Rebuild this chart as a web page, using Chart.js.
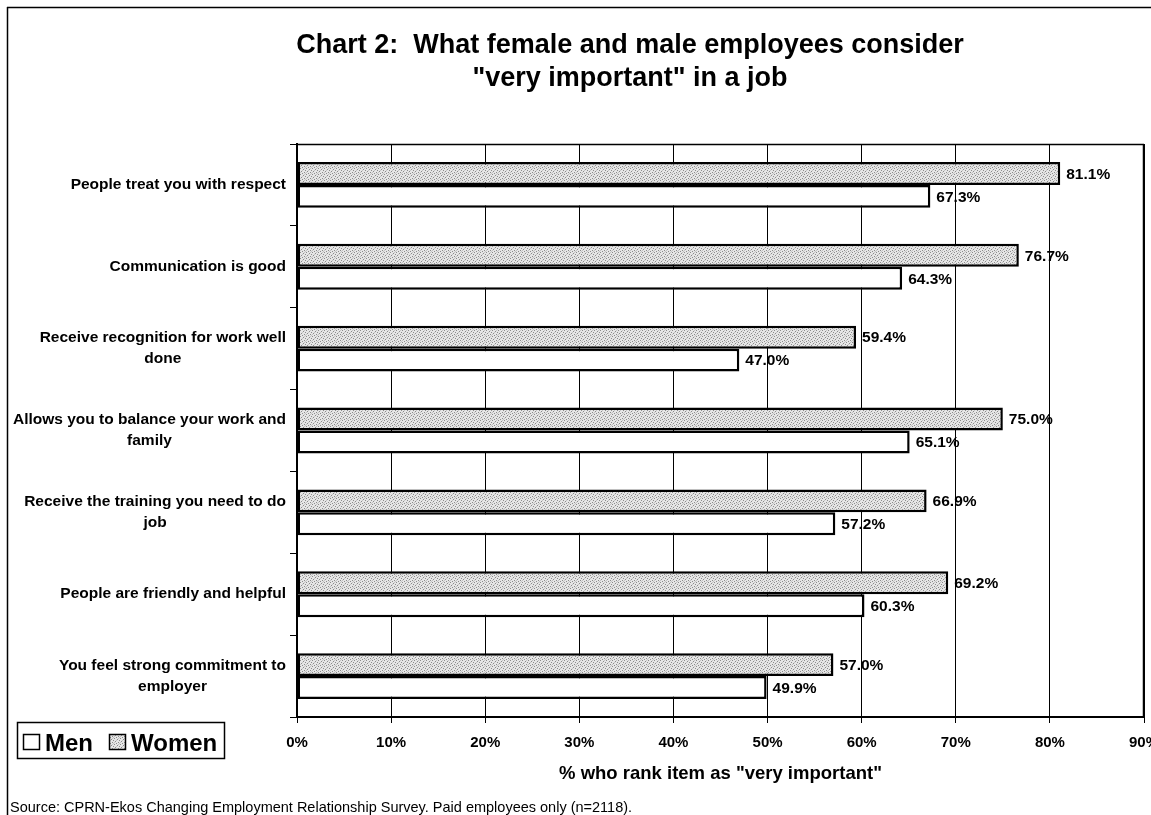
<!DOCTYPE html>
<html>
<head>
<meta charset="utf-8">
<script src="https://cdn.jsdelivr.net/npm/chart.js@4.4.1/dist/chart.umd.min.js"></script>
<style>
  html, body { margin: 0; padding: 0; background: #ffffff; }
  #wrap { position: relative; width: 1151px; height: 815px; }
  canvas { display: block; }
</style>
</head>
<body>
<div id="wrap"><canvas id="c" width="1151" height="815"></canvas></div>
<script>
// ---- data ----
const categories = [
  ["People treat you with respect"],
  ["Communication is good"],
  ["Receive recognition for work well", "done"],
  ["Allows you to balance your work and", "family"],
  ["Receive the training you need to do", "job"],
  ["People are friendly and helpful"],
  ["You feel strong commitment to", "employer"]
];
const womenValues = [81.1, 76.7, 59.4, 75.0, 66.9, 69.2, 57.0];
const menValues   = [67.3, 64.3, 47.0, 65.1, 57.2, 60.3, 49.9];
const seriesNames = ["Women", "Men"];
const legendOrder = ["Men", "Women"];
const xTickValues = [0, 10, 20, 30, 40, 50, 60, 70, 80, 90];
const titleLines = ["Chart 2:  What female and male employees consider", "\"very important\" in a job"];
const xAxisTitle = "% who rank item as \"very important\"";
const sourceText = "Source: CPRN-Ekos Changing Employment Relationship Survey. Paid employees only (n=2118).";

const FONT = '"Liberation Sans", Arial, Helvetica, sans-serif';

// halftone-like pattern for the Women bars
function makePattern() {
  const p = document.createElement('canvas');
  p.width = 6; p.height = 6;
  const g = p.getContext('2d');
  g.fillStyle = '#e6e6e6';
  g.fillRect(0, 0, 6, 6);
  g.fillStyle = '#8c8c8c';
  const dots = [[0,0],[3,1],[1,3],[4,4],[2,5],[5,2]];
  dots.forEach(d => g.fillRect(d[0], d[1], 1, 1));
  g.fillStyle = '#c4c4c4';
  const dots2 = [[2,2],[5,5],[0,4],[4,0]];
  dots2.forEach(d => g.fillRect(d[0], d[1], 1, 1));
  return g.createPattern(p, 'repeat');
}
const ctx0 = document.getElementById('c').getContext('2d');
const womenPattern = makePattern();

const decorPlugin = {
  id: 'decor',
  beforeDraw(chart) {
    const c = chart.ctx;
    c.save();
    c.fillStyle = '#ffffff';
    c.fillRect(0, 0, chart.width, chart.height);
    c.strokeStyle = '#000';
    c.lineWidth = 1.5;
    c.beginPath();
    c.moveTo(7, 7.5); c.lineTo(chart.width, 7.5);
    c.moveTo(7.5, 7); c.lineTo(7.5, chart.height);
    c.stroke();
    c.restore();
  },
  afterDraw(chart) {
    const c = chart.ctx;
    const area = chart.chartArea;
    const ys = chart.scales.y;
    c.save();
    c.strokeStyle = '#000';
    c.lineWidth = 1.5;
    c.beginPath();
    c.moveTo(area.left, area.top + 0.5); c.lineTo(area.right, area.top + 0.5);
    c.moveTo(area.right - 0.5, area.top); c.lineTo(area.right - 0.5, area.bottom);
    c.stroke();

    // title
    c.fillStyle = '#000';
    c.textAlign = 'center';
    c.textBaseline = 'alphabetic';
    c.font = 'bold 27px ' + FONT;
    c.fillText(titleLines[0], 630, 53);
    c.fillText(titleLines[1], 630, 86);

    // category labels
    c.font = 'bold 15.5px ' + FONT;
    c.textBaseline = 'middle';
    categories.forEach((lines, i) => {
      const yc = ys.getPixelForValue(i);
      const w = Math.max(...lines.map(l => c.measureText(l).width));
      const cx = 286 - w / 2;
      lines.forEach((l, j) => {
        c.fillText(l, cx, yc + (j - (lines.length - 1) / 2) * 21);
      });
    });

    // legend
    c.lineWidth = 1.5;
    c.strokeStyle = '#000';
    c.strokeRect(17.5, 722.5, 207, 36);
    c.font = 'bold 24px ' + FONT;
    c.textAlign = 'left';
    c.textBaseline = 'alphabetic';
    let lx = 23;
    legendOrder.forEach(name => {
      c.fillStyle = name === 'Women' ? womenPattern : '#ffffff';
      c.fillRect(lx, 734, 17, 16);
      c.strokeRect(lx + 0.5, 734.5, 16, 15);
      c.fillStyle = '#000';
      c.fillText(name, lx + 22, 751);
      lx += 22 + c.measureText(name).width + 16;
    });

    // source
    c.font = '14.5px ' + FONT;
    c.fillText(sourceText, 10, 812);
    c.restore();
  },
  afterDatasetsDraw(chart) {
    const c = chart.ctx;
    c.save();
    c.font = 'bold 15.5px ' + FONT;
    c.fillStyle = '#000';
    c.textAlign = 'left';
    c.textBaseline = 'middle';
    chart.data.datasets.forEach((ds, di) => {
      const meta = chart.getDatasetMeta(di);
      meta.data.forEach((el, i) => {
        c.fillText(ds.data[i].toFixed(1) + '%', el.x + 6, el.y + 1);
      });
    });
    c.restore();
  }
};

new Chart(ctx0, {
  type: 'bar',
  data: {
    labels: categories,
    datasets: [
      { label: seriesNames[0], data: womenValues, backgroundColor: womenPattern,
        borderColor: '#000', borderWidth: 2.5, borderSkipped: false,
        categoryPercentage: 0.56, barPercentage: 1.0 },
      { label: seriesNames[1], data: menValues, backgroundColor: '#ffffff',
        borderColor: '#000', borderWidth: 2.5, borderSkipped: false,
        categoryPercentage: 0.56, barPercentage: 1.0 }
    ]
  },
  options: {
    indexAxis: 'y',
    responsive: false,
    animation: false,
    devicePixelRatio: 1,
    layout: { padding: { top: 144, right: 7, left: 0, bottom: 0 } },
    plugins: { legend: { display: false }, title: { display: false }, tooltip: { enabled: false } },
    scales: {
      x: {
        min: 0, max: 90,
        afterBuildTicks(scale) { scale.ticks = xTickValues.map(v => ({ value: v })); },
        afterFit(scale) { scale.height = 98; scale.paddingLeft = 0; scale.paddingRight = 0; },
        ticks: {
          callback: v => v + '%',
          font: { family: FONT, size: 15, weight: 'bold' },
          color: '#000',
          padding: 11,
          maxRotation: 0
        },
        grid: { color: '#000', lineWidth: 1, drawTicks: true, tickLength: 6, tickColor: '#000' },
        border: { display: true, color: '#000', width: 2 },
        title: {
          display: true, text: xAxisTitle, color: '#000',
          font: { family: FONT, size: 18.5, weight: 'bold' },
          padding: { top: 0, bottom: 30 }
        }
      },
      y: {
        afterFit(scale) { scale.width = 297; },
        ticks: { display: false },
        grid: { drawOnChartArea: false, drawTicks: true, tickLength: 7, color: '#000', lineWidth: 1, offset: true },
        border: { display: true, color: '#000', width: 2 }
      }
    }
  },
  plugins: [decorPlugin]
});
</script>
</body>
</html>
